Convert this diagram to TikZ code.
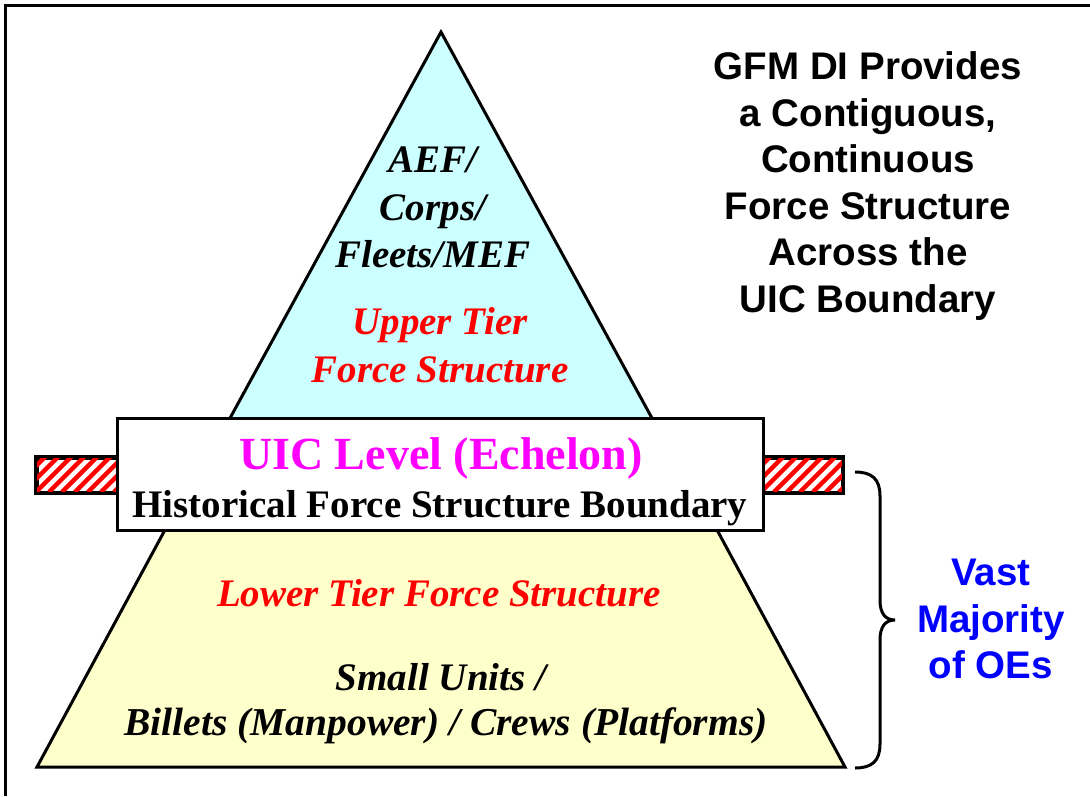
\documentclass[tikz,border=0pt]{standalone}
\usepackage{fontspec}
\setmainfont{Liberation Serif}
\newfontfamily\arialf{Liberation Sans}
\definecolor{upperfill}{HTML}{CCFFFF}
\definecolor{lowerfill}{HTML}{FFFFCC}
\definecolor{mag}{HTML}{FF00FF}
\definecolor{myred}{HTML}{FF0000}
\definecolor{myblue}{HTML}{0000FF}
\begin{document}
\begin{tikzpicture}[x=1pt,y=-1pt,line join=miter,
  outline/.style={draw=black,line width=3},
  bi/.style={font=\fontsize{39}{46}\selectfont\bfseries\itshape,inner sep=0,anchor=base},
  bsf/.style={font=\fontsize{38.5}{46}\selectfont\arialf\bfseries,inner sep=0,anchor=base},
  stripe/.style={draw=myred,line width=4.5},
  barbox/.style={draw=black,line width=3,fill=white,minimum width=80,minimum height=34,inner sep=0}]
\useasboundingbox (0,0) rectangle (1090,796);
\fill[white] (0,0) rectangle (1090,796);
% frame (left and top only visible)
\draw[line width=3] (5,796) -- (5,5) -- (1090,5);

% hatched bars
\node[barbox] (lbar) at (77,475) {};
\node[barbox] (rbar) at (802,475) {};
\begin{scope}
  \clip (lbar.south west) rectangle (lbar.north east);
  \foreach \i in {0,13,...,143} \draw[stripe] (-3+\i,492) -- ++(40,-40);
\end{scope}
\begin{scope}
  \clip (rbar.south west) rectangle (rbar.north east);
  \foreach \i in {0,13,...,143} \draw[stripe] (722+\i,492) -- ++(40,-40);
\end{scope}
\draw[line width=3] (lbar.south west) rectangle (lbar.north east);
\draw[line width=3] (rbar.south west) rectangle (rbar.north east);

% pyramid
\coordinate (apex) at (441,32);
\coordinate (bl) at (37,767);
\coordinate (br) at (845,767);
\filldraw[outline,fill=upperfill] (apex) -- (229,420) -- (653,420) -- cycle;
\filldraw[outline,fill=lowerfill] (166,528) -- (716,528) -- (br) -- (bl) -- cycle;

% UIC box
\node[draw=black,line width=3,fill=white,minimum width=646,minimum height=112,inner sep=0] (uic) at (440,474) {};

% texts upper
\node[bi] (t1) at (433,172) {AEF/};
\node[bi] (t2) at (433,220) {Corps/};
\node[bi] (t3) at (433,267) {Fleets/MEF};
\node[bi,text=myred] (t4) at (440,334) {Upper Tier};
\node[bi,text=myred] (t5) at (440,382) {Force Structure};

% box text
\node[font=\fontsize{46}{50}\selectfont\bfseries,text=mag,inner sep=0,anchor=base] (b1) at (441,469) {UIC Level (Echelon)};
\node[font=\fontsize{39}{46}\selectfont\bfseries,inner sep=0,anchor=base] (b2) at (440,517) {Historical Force Structure Boundary};

% lower texts
\node[bi,text=myred] (l1) at (439,606) {Lower Tier Force Structure};
\node[bi] (l2) at (441,690) {Small Units /};
\node[font=\fontsize{39.5}{46}\selectfont\bfseries\itshape,inner sep=0,anchor=base] (l3) at (446,735) {Billets (Manpower) / Crews (Platforms)};

% right text
\node[bsf] (r1) at (868,79) {GFM DI Provides};
\node[bsf] (r2) at (868,126) {a Contiguous,};
\node[bsf] (r3) at (868,172) {Continuous};
\node[bsf] (r4) at (868,219) {Force Structure};
\node[bsf] (r5) at (868,265) {Across the};
\node[bsf] (r6) at (868,312) {UIC Boundary};

% brace
\coordinate (brtop) at (855,472);
\coordinate (brtip) at (895,620);
\coordinate (brbot) at (855,768);
\draw[line width=3] (brtop) .. controls (872,472) and (880,479) .. (880,496) -- (880,600)
  .. controls (880,613) and (885,620) .. (brtip)
  .. controls (885,620) and (880,627) .. (880,640) -- (880,744)
  .. controls (880,761) and (872,768) .. (brbot);

% blue text
\node[bsf,text=myblue] (v1) at (991,585) {Vast};
\node[bsf,text=myblue] (v2) at (991,632) {Majority};
\node[bsf,text=myblue] (v3) at (991,678) {of OEs};
\end{tikzpicture}
\end{document}
